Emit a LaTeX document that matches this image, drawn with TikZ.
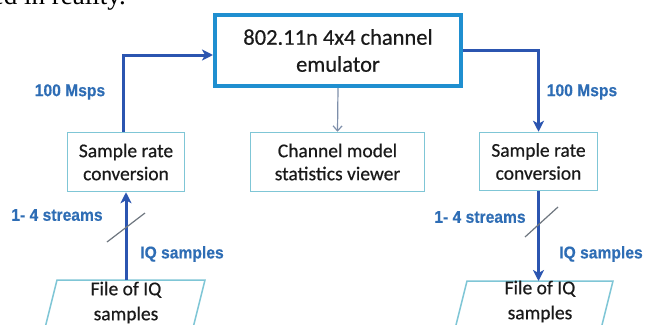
\documentclass[tikz,border=0pt]{standalone}
\usepackage{fontspec}
\setmainfont{Carlito}
\newfontfamily\boxfont[FakeBold=0.5]{Carlito}
\newfontfamily\lblfont[FakeStretch=0.92,FakeBold=0.4]{Liberation Sans}
\newfontfamily\seriffont{Liberation Serif}
\usetikzlibrary{arrows.meta,calc}
\definecolor{bigbox}{HTML}{1F8FD0}
\definecolor{smallbox}{HTML}{7FC6D6}
\definecolor{arrowblue}{HTML}{2B55B0}
\definecolor{thinarrow}{HTML}{7E8FAA}
\definecolor{slashgray}{HTML}{6F7780}
\definecolor{lblblue}{HTML}{2E6DB5}
\definecolor{txt}{HTML}{1A1A1A}
\tikzset{
  mainbox/.style={draw=bigbox, line width=4pt, inner sep=0pt, align=center,
    minimum width=246pt, minimum height=71pt, text=txt,
    font=\boxfont\fontsize{22.5}{27}\selectfont},
  smallboxstyle/.style={draw=smallbox, line width=1.5pt, inner sep=0pt, align=center,
    text=txt, font=\boxfont\fontsize{19.5}{23}\selectfont},
  filetext/.style={align=center, inner sep=0pt, text=txt,
    font=\boxfont\fontsize{19.5}{25}\selectfont},
  fileshape/.style={draw=smallbox, line width=1.5pt},
  bigarrow/.style={draw=arrowblue, line width=3pt,
    -{Stealth[length=11pt,width=11pt,inset=3pt]}},
  thinarrowstyle/.style={draw=thinarrow, line width=1.2pt,
    -{Straight Barb[length=5pt,width=9pt]}},
  slash/.style={draw=slashgray, line width=1.2pt},
  lbl/.style={text=lblblue, inner sep=0pt, font=\lblfont\bfseries\fontsize{17}{20}\selectfont}
}
\begin{document}
\begin{tikzpicture}[x=1pt,y=-1pt]
\useasboundingbox (0,0) rectangle (645,324);
\clip (0,0) rectangle (645,324);
\fill[white] (0,0) rectangle (645,324);

% text fragment at the top, cut off as in the reference
\node[anchor=base east, inner sep=0pt, font=\seriffont\fontsize{27}{30}\selectfont] (frag) at (126,5) {ed in reality.};

% boxes
\node[mainbox] (emu) at (338,50.5) {802.11n 4x4 channel\\emulator};
\node[smallboxstyle, minimum width=117pt, minimum height=59pt] (lsrc) at (126,162) {Sample rate\\conversion};
\node[smallboxstyle, minimum width=174pt, minimum height=59pt] (stat) at (337.5,162) {Channel model\\statistics viewer};
\node[smallboxstyle, minimum width=118pt, minimum height=58pt] (rsrc) at (538.5,161.5) {Sample rate\\conversion};

% file parallelograms
\draw[fileshape] (57,280) -- (205,280) -- (192,332) -- (44,332) -- cycle;
\draw[fileshape] (467,281) -- (613,281) -- (600,333) -- (454,333) -- cycle;
\coordinate (lftop) at (126,280);
\coordinate (rftop) at (538.5,281);
\node[filetext] (lfile) at (126,302.5) {File of IQ\\samples};
\node[filetext] (rfile) at (540,301.5) {File of IQ\\samples};

% connectors
\draw[bigarrow] ([xshift=-3pt]lsrc.north) |- ([yshift=-4.5pt]emu.west);
\draw[bigarrow] (emu.east) -| (rsrc.north);
\draw[thinarrowstyle] (emu.south) -- (stat.north);
\draw[bigarrow] (lftop) -- (lsrc.south);
\draw[bigarrow] (rsrc.south) -- (rftop);

% stream slashes
\draw[slash] (107,242) -- (145,213);
\draw[slash] (525,237) -- (558,207);

% labels
\node[lbl] (l100) at (70,92) {100 Msps};
\node[lbl] (r100) at (582,92) {100 Msps};
\node[lbl] (lstr) at (57,215) {1- 4 streams};
\node[lbl] (liq) at (182,254) {IQ samples};
\node[lbl] (rstr) at (480,217) {1- 4 streams};
\node[lbl] (riq) at (601,254) {IQ samples};
\end{tikzpicture}
\end{document}
